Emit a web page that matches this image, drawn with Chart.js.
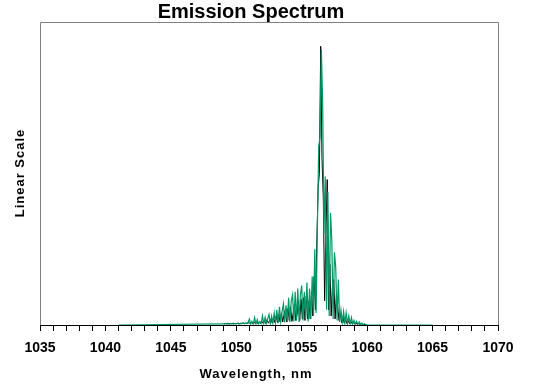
<!DOCTYPE html>
<html>
<head>
<meta charset="utf-8">
<script src="https://cdn.jsdelivr.net/npm/chart.js@4/dist/chart.umd.min.js"></script>
<style>
html,body{margin:0;padding:0;background:#fff;}
#wrap{width:539px;height:390px;position:relative;}
</style>
</head>
<body>
<div id="wrap"><canvas id="c" width="539" height="390"></canvas></div>
<script>
// ---- DATA ----
const chartTitle = "Emission Spectrum";
const xAxisTitle = "Wavelength, nm";
const yAxisTitle = "Linear Scale";
const xTickLabels = [1035, 1040, 1045, 1050, 1055, 1060, 1065, 1070];

// green spectrum: flat tails plus sampled region 1049.0 .. 1060.0 nm (0.1 nm grid)
const greenTailStart = 1041;
const greenTailEnd = 1065;
const greenStart = 1049.0;
const greenStep = 0.1;
const greenValues = [
  0.004,0.003,0.005,0.003,0.004,0.003,0.005,0.004,0.003,0.005,
  0.004,0.006,0.003,0.005,0.004,0.007,0.004,0.006,0.005,0.008,
  0.020,0.003,0.012,0.004,0.025,0.003,0.018,0.004,0.012,0.005,
  0.030,0.004,0.025,0.005,0.020,0.035,0.004,0.030,0.006,0.040,
  0.008,0.050,0.006,0.060,0.010,0.045,0.070,0.008,0.065,0.010,
  0.090,0.010,0.080,0.100,0.012,0.110,0.015,0.120,0.010,0.100,
  0.130,0.015,0.110,0.020,0.140,0.012,0.120,0.020,0.160,0.030,
  0.250,0.040,0.330,0.590,0.620,0.910,0.740,0.300,0.490,0.050,
  0.440,0.030,0.370,0.280,0.020,0.240,0.190,0.015,0.150,0.010,
  0.050,0.008,0.045,0.006,0.040,0.005,0.030,0.004,0.025,0.004,
  0.015,0.003,0.012,0.002,0.010,0.002,0.006,0.001,0.004,0.001,
  0.000
];

// black spectrum: sampled region 1049.05 .. 1059.95 nm (0.1 nm grid)
const blackStart = 1049.05;
const blackStep = 0.1;
const blackValues = [
  0.004,0.005,0.004,0.006,0.004,0.005,0.004,0.006,0.005,0.004,
  0.005,0.006,0.004,0.006,0.005,0.007,0.005,0.006,0.006,0.007,
  0.006,0.008,0.004,0.010,0.005,0.012,0.004,0.010,0.005,0.012,
  0.006,0.015,0.005,0.018,0.006,0.015,0.020,0.006,0.025,0.008,
  0.030,0.008,0.035,0.010,0.040,0.010,0.035,0.050,0.010,0.055,
  0.015,0.060,0.012,0.040,0.070,0.015,0.035,0.080,0.015,0.085,
  0.020,0.090,0.015,0.095,0.020,0.080,0.020,0.110,0.030,0.160,
  0.050,0.260,0.450,0.500,0.920,0.550,0.420,0.080,0.300,0.480,
  0.050,0.200,0.030,0.130,0.150,0.020,0.100,0.060,0.015,0.035,
  0.008,0.025,0.006,0.022,0.005,0.015,0.004,0.012,0.004,0.008,
  0.003,0.006,0.002,0.005,0.002,0.004,0.002,0.002,0.001,0.001
];

// ---- build point tables ----
const greenPoints = [{x: greenTailStart, y: 0}];
greenValues.forEach((v, i) => greenPoints.push({x: +(greenStart + i * greenStep).toFixed(2), y: v}));
greenPoints.push({x: greenTailEnd, y: 0});

const blackPoints = blackValues.map((v, i) => ({x: +(blackStart + i * blackStep).toFixed(2), y: v}));

const FONT = "'Liberation Sans', Arial, sans-serif";

const decor = {
  id: 'decor',
  beforeDatasetsDraw(chart) {
    const {ctx, chartArea: a} = chart;
    ctx.save();
    ctx.strokeStyle = '#808080';
    ctx.lineWidth = 1;
    ctx.beginPath();
    ctx.moveTo(a.left + 0.5, a.bottom);
    ctx.lineTo(a.left + 0.5, a.top + 0.5);
    ctx.lineTo(a.right + 0.5, a.top + 0.5);
    ctx.lineTo(a.right + 0.5, a.bottom);
    ctx.stroke();
    ctx.restore();
  },
  afterDraw(chart) {
    const {ctx} = chart;
    ctx.save();
    ctx.fillStyle = '#000';
    ctx.textAlign = 'center';
    ctx.textBaseline = 'alphabetic';
    ctx.font = "bold 20px " + FONT;
    ctx.fillText(chartTitle, 251, 18);
    ctx.font = "bold 13px " + FONT;
    ctx.letterSpacing = '1px';
    ctx.fillText(xAxisTitle, 256, 378);
    ctx.translate(24, 173);
    ctx.rotate(-Math.PI / 2);
    ctx.fillText(yAxisTitle, 0, 0);
    ctx.restore();
  }
};

new Chart(document.getElementById('c'), {
  type: 'line',
  data: {
    datasets: [
      {
        label: 'green',
        data: greenPoints,
        borderColor: '#009966',
        borderWidth: 1.2,
        pointRadius: 0,
        tension: 0,
        fill: false,
        order: 1
      },
      {
        label: 'black',
        data: blackPoints,
        borderColor: '#000000',
        borderWidth: 1,
        pointRadius: 0,
        tension: 0,
        fill: false,
        order: 2
      }
    ]
  },
  options: {
    responsive: false,
    animation: false,
    devicePixelRatio: 1,
    layout: {padding: {top: 22, right: 41, left: 0, bottom: 0}},
    plugins: {legend: {display: false}, title: {display: false}, tooltip: {enabled: false}},
    scales: {
      x: {
        type: 'linear',
        min: 1035,
        max: 1070,
        afterFit(s) { s.height = 65; },
        afterBuildTicks(s) {
          const t = [];
          for (let v = 1035; v <= 1070; v++) t.push({value: v});
          s.ticks = t;
        },
        ticks: {
          autoSkip: false,
          maxRotation: 0,
          padding: 9,
          color: '#000',
          font: {family: FONT, size: 14, weight: 'bold'},
          callback: (v) => xTickLabels.includes(v) ? String(v) : ''
        },
        grid: {drawOnChartArea: false, drawTicks: true, tickLength: 6, color: '#000'},
        border: {color: '#000', width: 1}
      },
      y: {
        min: 0,
        max: 1,
        afterFit(s) { s.width = 40; },
        ticks: {display: false},
        grid: {display: false, drawOnChartArea: false, drawTicks: false},
        border: {display: false}
      }
    }
  },
  plugins: [decor]
});
</script>
</body>
</html>
